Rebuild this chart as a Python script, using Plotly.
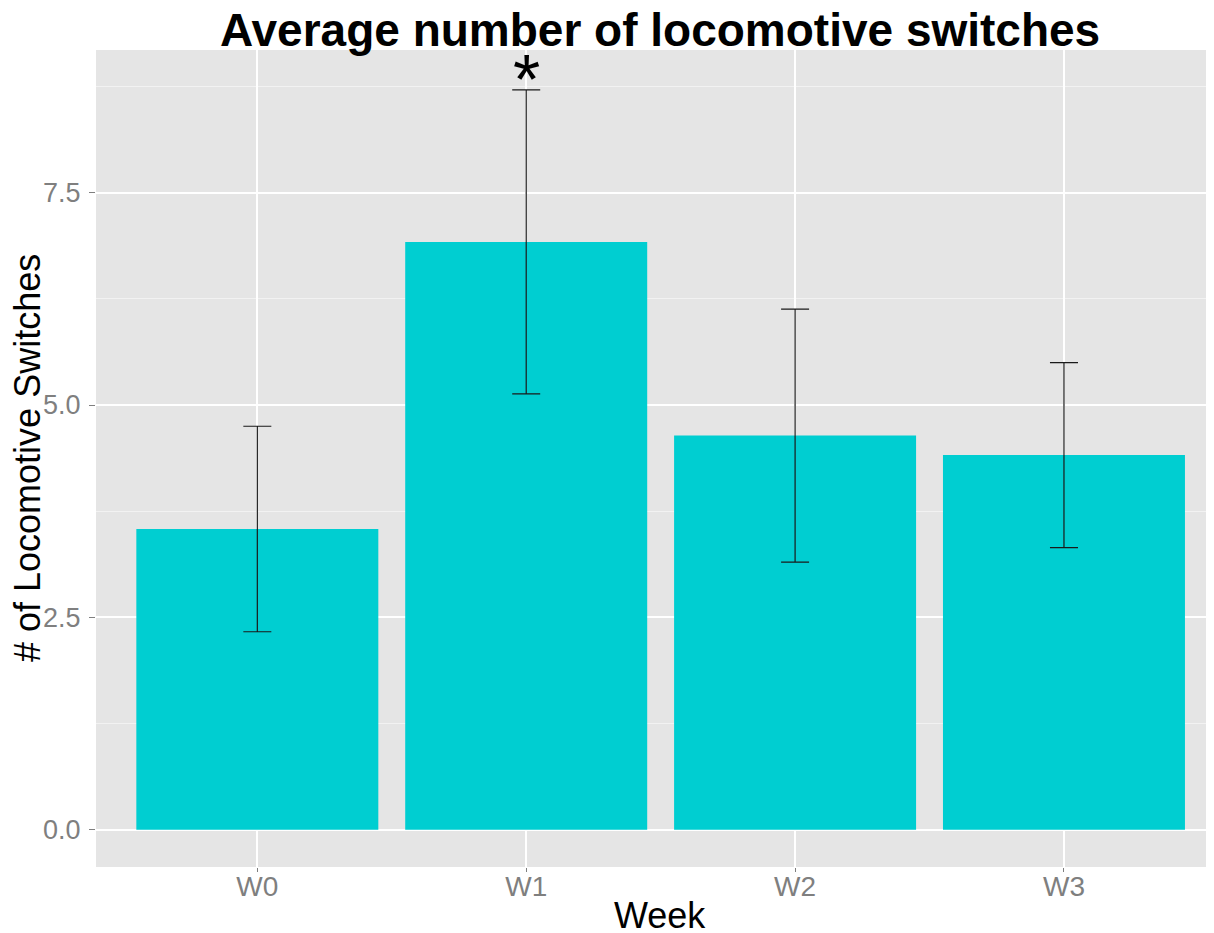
import plotly.graph_objects as go

weeks = ["W0", "W1", "W2", "W3"]
means = [3.54, 6.92, 4.64, 4.41]
errors = [1.21, 1.79, 1.49, 1.09]
sig_labels = ["", "*", "", ""]

title_text = "Average number of locomotive switches"
x_title = "Week"
y_title = "# of Locomotive Switches"

FONT = "Liberation Sans, Arial, sans-serif"

fig = go.Figure()
fig.add_trace(go.Bar(
    x=weeks, y=means, width=0.9,
    marker=dict(color="#00CED1", line=dict(width=0)),
    error_y=dict(type="data", array=errors, visible=True,
                 color="#1a1a1a", thickness=1.2, width=14),
    showlegend=False,
))

for w, m, e, s in zip(weeks, means, errors, sig_labels):
    if s:
        fig.add_annotation(x=w, y=m + e, text=s, showarrow=False,
                           xref="x", yref="y", yanchor="bottom",
                           yshift=-31,
                           font=dict(family=FONT, size=70, color="black"))

# main title
fig.add_annotation(x=0.5045, xref="paper", y=1, yref="paper",
                   yanchor="bottom", yshift=-8, showarrow=False,
                   text="<b>" + title_text + "</b>",
                   font=dict(family=FONT, size=46, color="black"))
# x axis title
fig.add_annotation(x=0.5045, xref="paper", y=0, yref="paper",
                   yanchor="top", yshift=-26, showarrow=False,
                   text=x_title,
                   font=dict(family=FONT, size=36, color="black"))
# y axis title
fig.add_annotation(x=0, xref="paper", y=0.5, yref="paper",
                   xanchor="right", xshift=-46, textangle=-90, showarrow=False,
                   text=y_title,
                   font=dict(family=FONT, size=36, color="black"))

fig.update_layout(
    width=1206, height=925,
    margin=dict(l=88, r=0, t=42, b=66, autoexpand=False),
    paper_bgcolor="white",
    plot_bgcolor="#E5E5E5",
    font=dict(family=FONT),
    bargap=0.1,
)

fig.update_xaxes(
    range=[-0.6, 3.558], type="category", automargin=False,
    showgrid=True, gridcolor="white", gridwidth=1.5,
    ticks="outside", ticklen=4, tickcolor="#7F7F7F", tickwidth=1,
    ticklabelstandoff=-10,
    tickfont=dict(family=FONT, size=28, color="#7F7F7F"),
    zeroline=False, showline=False,
)
fig.update_yaxes(
    range=[-0.44, 9.18], automargin=False,
    tickmode="array", tickvals=[0, 2.5, 5, 7.5], tickformat=".1f",
    showgrid=True, gridcolor="white", gridwidth=1.5,
    minor=dict(tickvals=[1.25, 3.75, 6.25, 8.75], showgrid=True,
               gridcolor="#F2F2F2", gridwidth=0.8, ticks=""),
    ticks="outside", ticklen=6, tickcolor="#7F7F7F", tickwidth=1,
    ticklabelstandoff=3,
    tickfont=dict(family=FONT, size=27, color="#7F7F7F"),
    zeroline=False, showline=False,
)

fig.write_html("out.html")
